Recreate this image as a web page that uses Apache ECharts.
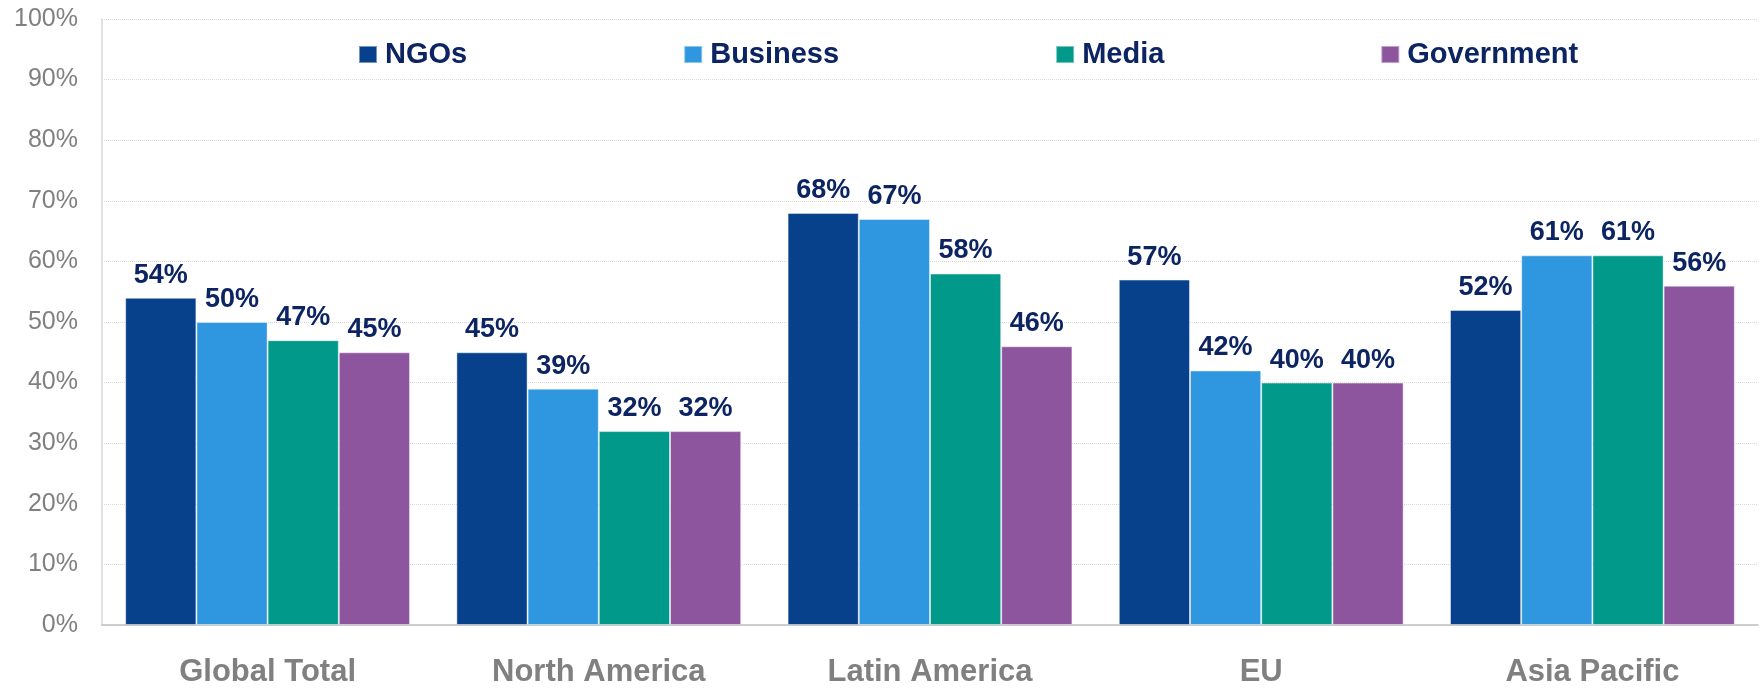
<!DOCTYPE html>
<html>
<head>
<meta charset="utf-8">
<script src="https://cdn.jsdelivr.net/npm/echarts@6/dist/echarts.min.js"></script>
<style>
  html, body { margin: 0; padding: 0; background: #ffffff; }
  #chart { width: 1761px; height: 688px; }
</style>
</head>
<body>
<div id="chart"></div>
<script>
// Trust levels by region, percent
const regions = ['Global Total', 'North America', 'Latin America', 'EU', 'Asia Pacific'];
const ngos       = [54, 45, 68, 57, 52];
const business   = [50, 39, 67, 42, 61];
const media      = [47, 32, 58, 40, 61];
const government = [45, 32, 46, 40, 56];
const yTicks = [0, 10, 20, 30, 40, 50, 60, 70, 80, 90, 100];

const FONT = '"Liberation Sans", Arial, sans-serif';
const NAVY = '#0c2461';
const GRAY = '#808080';

const seriesDefs = [
  { name: 'NGOs', data: ngos, color: '#07418b' },
  { name: 'Business', data: business, color: '#2f96e0' },
  { name: 'Media', data: media, color: '#00998a' },
  { name: 'Government', data: government, color: '#8e559f' }
];

const chart = echarts.init(document.getElementById('chart'), null, { renderer: 'canvas' });

chart.setOption({
  animation: false,
  backgroundColor: '#ffffff',
  grid: { left: 102, right: 3, top: 19, bottom: 62, containLabel: false },
  legend: {
    left: 353,
    top: 35,
    itemWidth: 18,
    itemHeight: 17,
    itemGap: 216,
    icon: 'rect',
    textStyle: { fontFamily: FONT, fontSize: 29, fontWeight: 'bold', color: NAVY, padding: [0, 0, 0, 3] },
    data: seriesDefs.map(s => s.name)
  },
  xAxis: {
    type: 'category',
    data: regions,
    axisLine: { show: true, lineStyle: { color: '#bfbfbf', width: 1.5 } },
    axisTick: { show: false },
    axisLabel: {
      margin: 32,
      fontFamily: FONT, fontSize: 31, fontWeight: 'bold', color: GRAY
    }
  },
  yAxis: {
    type: 'value',
    min: yTicks[0],
    max: yTicks[yTicks.length - 1],
    interval: yTicks[1] - yTicks[0],
    axisLine: { show: true, lineStyle: { color: '#d9d9d9', width: 1.5 } },
    axisTick: { show: false },
    splitLine: { show: true, lineStyle: { color: '#d9d9d9', type: 'dotted', width: 1 } },
    axisLabel: {
      margin: 24,
      fontFamily: FONT, fontSize: 25, color: GRAY,
      formatter: '{value}%'
    }
  },
  series: seriesDefs.map(s => ({
    name: s.name,
    type: 'bar',
    data: s.data,
    barGap: '0%',
    barCategoryGap: '14%',
    itemStyle: { color: s.color, borderColor: 'rgba(255,255,255,0.45)', borderWidth: 1 },
    label: {
      show: true,
      position: 'top',
      distance: 9,
      formatter: '{c}%',
      fontFamily: FONT, fontSize: 27, fontWeight: 'bold', color: NAVY
    }
  }))
});
</script>
</body>
</html>
